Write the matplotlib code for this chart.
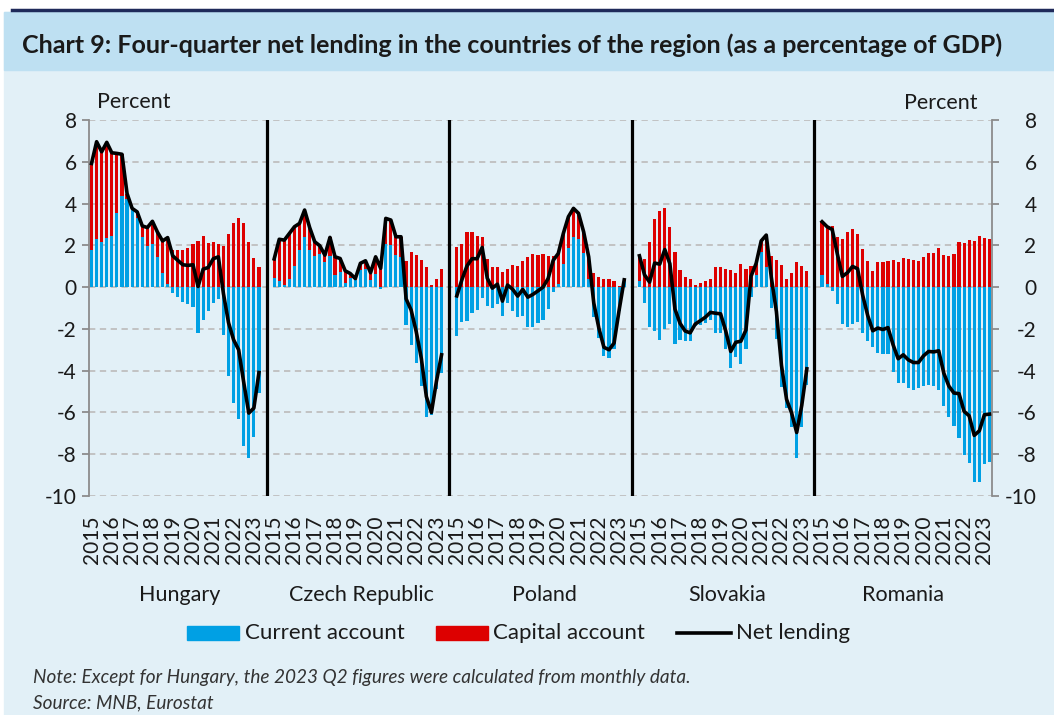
import numpy as np
import matplotlib
matplotlib.use("Agg")
from matplotlib import pyplot as plt
from matplotlib.patches import Rectangle
from matplotlib.lines import Line2D
import matplotlib.transforms as mtransforms

plt.rcParams['font.family'] = ['Lato', 'DejaVu Sans']

# four-quarter sums, 2015 Q1 .. 2023 Q2, % of GDP
countries = ["Hungary", "Czech Republic", "Poland", "Slovakia", "Romania"]
years = ["2015", "2016", "2017", "2018", "2019", "2020", "2021", "2022", "2023"]

ca_hu = [1.80, 2.28, 2.17, 2.33, 2.44, 3.53, 4.36, 4.20, 3.69, 3.29, 2.40, 1.96, 2.05, 1.45, 0.67, 0.14, -0.30,
         -0.49, -0.73, -0.81, -0.97, -2.19, -1.58, -1.15, -0.78, -0.59, -2.27, -4.24, -5.57, -6.32, -7.61, -8.17,
         -7.16, -5.06]
ka_hu = [4.12, 4.68, 4.31, 4.60, 3.99, 2.87, 2.00, 0.28, 0.08, 0.31, 0.53, 0.89, 1.10, 1.18, 1.54, 2.23, 1.80,
         1.77, 1.80, 1.85, 2.04, 2.22, 2.44, 2.09, 2.14, 2.04, 1.96, 2.54, 3.05, 3.32, 3.05, 2.14, 1.37, 0.97]

ca_cz = [0.46, 0.29, 0.10, 0.41, 1.02, 1.77, 2.41, 1.77, 1.48, 1.58, 1.21, 1.48, 0.57, 0.70, 0.18, 0.46, 0.34,
         0.81, 0.89, 0.34, 0.65, -0.10, 2.06, 2.01, 1.53, 1.45, -1.82, -2.79, -3.65, -4.72, -6.21, -6.10, -4.90,
         -4.13]
ka_cz = [0.89, 2.00, 2.15, 2.16, 1.87, 1.28, 1.28, 1.08, 0.69, 0.40, 0.32, 0.90, 0.88, 0.67, 0.60, 0.19, 0.07,
         0.33, 0.37, 0.35, 0.80, 1.00, 1.23, 1.20, 0.88, 0.96, 1.26, 1.69, 1.52, 1.32, 0.97, 0.10, 0.41, 0.89]

ca_pl = [-2.35, -1.69, -1.61, -1.26, -1.10, -0.51, -0.91, -1.02, -0.83, -1.37, -0.75, -1.15, -1.45, -1.37, -1.90,
         -1.93, -1.71, -1.58, -1.07, -0.22, 0.14, 1.13, 1.85, 2.41, 2.28, 1.61, 0.37, -1.45, -2.46, -3.29, -3.37,
         -2.98, -1.15, 0.30]
ka_pl = [1.93, 2.04, 2.62, 2.62, 2.46, 2.41, 1.34, 0.97, 0.97, 0.70, 0.85, 1.05, 1.02, 1.26, 1.42, 1.58, 1.53,
         1.58, 1.48, 1.50, 1.47, 1.44, 1.52, 1.36, 1.25, 1.04, 1.08, 0.69, 0.50, 0.41, 0.37, 0.30, 0.05, 0.05]

ca_sk = [0.29, -0.75, -1.90, -2.09, -2.54, -2.01, -1.77, -2.74, -2.54, -2.59, -2.57, -1.87, -1.82, -1.74, -1.58,
         -2.19, -2.22, -2.98, -3.89, -3.33, -3.69, -2.94, -0.49, 0.57, 1.69, 0.94, -1.02, -2.49, -4.80, -5.78,
         -6.72, -8.17, -6.68, -4.69]
ka_sk = [1.21, 1.34, 2.14, 3.24, 3.64, 3.81, 2.89, 1.69, 0.81, 0.49, 0.38, 0.10, 0.21, 0.30, 0.37, 0.94, 0.94,
         0.89, 0.81, 0.69, 1.10, 0.89, 1.01, 0.56, 0.52, 1.55, 1.48, 1.32, 1.05, 0.41, 0.69, 1.21, 1.02, 0.78]

ca_ro = [0.57, 0.14, -0.18, -0.81, -1.77, -1.93, -1.77, -1.66, -2.20, -2.60, -2.86, -3.14, -3.21, -3.18, -4.08,
         -4.61, -4.61, -4.82, -4.93, -4.85, -4.74, -4.69, -4.74, -4.93, -5.68, -6.24, -6.65, -7.24, -8.04, -8.41,
         -9.32, -9.32, -8.47, -8.36]
ka_ro = [2.56, 2.75, 2.94, 2.41, 2.28, 2.62, 2.76, 2.54, 1.82, 1.24, 0.77, 1.18, 1.18, 1.24, 1.32, 1.18, 1.37,
         1.34, 1.32, 1.24, 1.45, 1.61, 1.64, 1.88, 1.56, 1.50, 1.58, 2.14, 2.09, 2.25, 2.22, 2.44, 2.36, 2.28]

ca_all = [ca_hu, ca_cz, ca_pl, ca_sk, ca_ro]
ka_all = [ka_hu, ka_cz, ka_pl, ka_sk, ka_ro]

BLUE = '#00A0E4'
RED = '#DD0000'
BG = '#E2F0F7'
BAND = '#BEE0F2'
GRID = '#BFBFBF'
AXC = '#8C8C8C'
TXT = '#1A1A1A'

W, H = 1054, 715
fig = plt.figure(figsize=(W / 100, H / 100), dpi=100, facecolor='white')

# background, title band, top rule
fig.add_artist(Rectangle((4 / W, 0), 1 - 4 / W, 1 - 12 / H, transform=fig.transFigure, color=BG, zorder=-10))
fig.add_artist(Rectangle((4 / W, 1 - 70 / H), 1 - 4 / W, 58 / H, transform=fig.transFigure, color=BAND, zorder=-9))
fig.add_artist(Line2D([12 / W, 1], [1 - 10 / H] * 2, transform=fig.transFigure, color='#1F2A5A', lw=2.5))
fig.text(22 / W, 1 - 45 / H, "Chart 9: Four-quarter net lending in the countries of the region (as a percentage of GDP)",
         fontsize=18, fontweight='bold', color=TXT, va='center', ha='left')

ax = fig.add_axes([89 / W, (H - 496) / H, (992 - 89) / W, (496 - 120) / H])
ax.set_facecolor('none')

NQ = 34
STEP = 36
bw = 0.62
for p in range(5):
    x = np.arange(NQ) + p * STEP
    ca = np.array(ca_all[p])
    ka = np.array(ka_all[p])
    ax.bar(x, ca, width=bw, color=BLUE, zorder=2)
    ax.bar(x, ka, width=bw, bottom=np.maximum(ca, 0), color=RED, zorder=2)
    ax.plot(x, ca + ka, color='black', lw=2.6, zorder=4, solid_joinstyle='round')
    if p > 0:
        ax.axvline(p * STEP - 1.5, color='black', lw=2.3, zorder=5)

ax.set_xlim(-0.5, 4 * STEP + NQ - 0.5)
ax.set_ylim(-10, 8)
ax.set_yticks(np.arange(-10, 9, 2))
ax.yaxis.grid(True, color=GRID, lw=1.3, ls=(0, (3.5, 2.5)), zorder=0)
ax.set_axisbelow(True)

# year labels every 4 quarters
xt = [p * STEP + 4 * k for p in range(5) for k in range(len(years))]
ax.set_xticks(xt)
ax.set_xticklabels(years * 5, rotation=90, fontsize=15, color=TXT)
ax.tick_params(axis='x', length=0, pad=14)

for s in ['top', 'bottom']:
    ax.spines[s].set_visible(False)
for s in ['left', 'right']:
    ax.spines[s].set_color(AXC)
    ax.spines[s].set_linewidth(1.3)
ax.tick_params(axis='y', left=True, right=True, labelleft=True, labelright=True,
               direction='out', length=5, width=1.3, color=AXC, labelsize=15, labelcolor=TXT, pad=4)
ax.set_yticklabels([str(v) for v in range(-10, 9, 2)])

# right-hand labels are right-aligned, as in the source
offset = mtransforms.ScaledTranslation(0.32, 0, fig.dpi_scale_trans)
for t in ax.yaxis.get_major_ticks():
    t.label2.set_horizontalalignment('right')
    t.label2.set_transform(t.label2.get_transform() + offset)

fig.text(97 / W, 1 - 102 / H, "Percent", fontsize=15.5, color=TXT, ha='left', va='center')
fig.text(978 / W, 1 - 103 / H, "Percent", fontsize=15.5, color=TXT, ha='right', va='center')

# country names under each block (last block has no trailing gap)
trans = mtransforms.blended_transform_factory(ax.transData, fig.transFigure)
name_x = [17.3, 17.3, 17.3, 17.3, 16.0]
for p, name in enumerate(countries):
    ax.text(p * STEP + name_x[p], 1 - 595 / H, name, transform=trans, ha='center', va='center', fontsize=15.5,
            color=TXT)

# legend
ly = 1 - 633 / H
fig.add_artist(Rectangle((187 / W, 1 - 640 / H), 52 / W, 14 / H, transform=fig.transFigure, color=BLUE))
fig.text(245 / W, ly, "Current account", fontsize=16, color=TXT, va='center', ha='left')
fig.add_artist(Rectangle((436 / W, 1 - 640 / H), 52 / W, 14 / H, transform=fig.transFigure, color=RED))
fig.text(493 / W, ly, "Capital account", fontsize=16, color=TXT, va='center', ha='left')
fig.add_artist(Line2D([677 / W, 731 / W], [ly, ly], transform=fig.transFigure, color='black', lw=2.6))
fig.text(736 / W, ly, "Net lending", fontsize=16, color=TXT, va='center', ha='left')

fig.text(33 / W, 1 - 677 / H, "Note: Except for Hungary, the 2023 Q2 figures were calculated from monthly data.",
         fontsize=13.7, style='italic', color='#333333', ha='left', va='center')
fig.text(33 / W, 1 - 703 / H, "Source: MNB, Eurostat", fontsize=13.7, style='italic', color='#333333',
         ha='left', va='center')

fig.savefig("out.png", dpi=100, facecolor=fig.get_facecolor())
